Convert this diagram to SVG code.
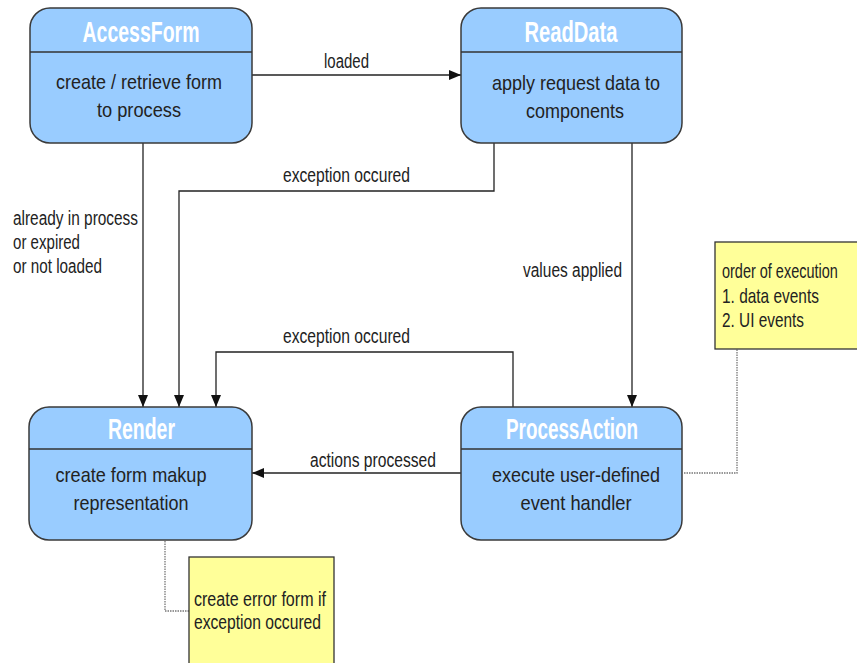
<svg xmlns="http://www.w3.org/2000/svg" width="857" height="663" viewBox="0 0 857 663">
<style>
.node{fill:#99CCFF;stroke:#3a3a3a;stroke-width:1.5}
.div{stroke:#333;stroke-width:1.5}
.title{font-family:"Liberation Sans",Arial,sans-serif;font-size:29px;font-weight:bold;fill:#fff;text-anchor:middle}
.body{font-family:"Liberation Sans",Arial,sans-serif;font-size:21px;fill:#222;text-anchor:middle}
.lbl{font-family:"Liberation Sans",Arial,sans-serif;font-size:20px;fill:#222}
.edge{fill:none;stroke:#222;stroke-width:1.3}
.dot{fill:none;stroke:#777;stroke-width:1.3;stroke-dasharray:1.5 1}
.note{fill:#FFFF99;stroke:#333;stroke-width:1.3}
</style>
<defs>
<marker id="arr" markerUnits="userSpaceOnUse" markerWidth="12" markerHeight="12" refX="12" refY="6" orient="auto">
<path d="M0,1 L12,6 L0,11 z" fill="#111"/>
</marker>
</defs>
<rect width="857" height="663" fill="#fff"/>
<g id="connectors">
<path class="edge" d="M252,75 H461" marker-end="url(#arr)"/>
<path class="edge" d="M143,143 V407" marker-end="url(#arr)"/>
<path class="edge" d="M494,143 V191 H179 V407" marker-end="url(#arr)"/>
<path class="edge" d="M632,143 V407" marker-end="url(#arr)"/>
<path class="edge" d="M513,407 V352 H216 V407" marker-end="url(#arr)"/>
<path class="edge" d="M461,473 H252" marker-end="url(#arr)"/>
<path class="dot" d="M684,473 H737 V349"/>
<path class="dot" d="M165,541 V611 H189"/>
<text class="lbl" x="324" y="68" textLength="45" lengthAdjust="spacingAndGlyphs">loaded</text>
<text class="lbl" x="283" y="182" textLength="127" lengthAdjust="spacingAndGlyphs">exception occured</text>
<text class="lbl" x="283" y="343" textLength="127" lengthAdjust="spacingAndGlyphs">exception occured</text>
<text class="lbl" x="523" y="277" textLength="99" lengthAdjust="spacingAndGlyphs">values applied</text>
<text class="lbl" x="310" y="467" textLength="126" lengthAdjust="spacingAndGlyphs">actions processed</text>
<text class="lbl" x="13" y="225" textLength="125" lengthAdjust="spacingAndGlyphs">already in process</text>
<text class="lbl" x="13" y="249" textLength="67" lengthAdjust="spacingAndGlyphs">or expired</text>
<text class="lbl" x="13" y="273" textLength="89" lengthAdjust="spacingAndGlyphs">or not loaded</text>
</g>
<g id="AccessForm">
<rect class="node" x="30" y="8" width="222" height="135" rx="20"/>
<line class="div" x1="30" y1="52" x2="252" y2="52"/>
<text class="title" x="141" y="42" textLength="117" lengthAdjust="spacingAndGlyphs">AccessForm</text>
<text class="body" x="139" y="89" textLength="166" lengthAdjust="spacingAndGlyphs">create / retrieve form</text>
<text class="body" x="139" y="117" textLength="84" lengthAdjust="spacingAndGlyphs">to process</text>
</g>
<g id="ReadData">
<rect class="node" x="461" y="8" width="221" height="135" rx="20"/>
<line class="div" x1="461" y1="52" x2="682" y2="52"/>
<text class="title" x="571" y="42" textLength="93" lengthAdjust="spacingAndGlyphs">ReadData</text>
<text class="body" x="576" y="90" textLength="168" lengthAdjust="spacingAndGlyphs">apply request data to</text>
<text class="body" x="575" y="118" textLength="98" lengthAdjust="spacingAndGlyphs">components</text>
</g>
<g id="Render">
<rect class="node" x="29" y="407" width="223" height="133" rx="20"/>
<line class="div" x1="29" y1="449" x2="252" y2="449"/>
<text class="title" x="141.5" y="439" textLength="67" lengthAdjust="spacingAndGlyphs">Render</text>
<text class="body" x="131" y="482" textLength="151" lengthAdjust="spacingAndGlyphs">create form makup</text>
<text class="body" x="131" y="510" textLength="115" lengthAdjust="spacingAndGlyphs">representation</text>
</g>
<g id="ProcessAction">
<rect class="node" x="461" y="407" width="221" height="133" rx="20"/>
<line class="div" x1="461" y1="449" x2="682" y2="449"/>
<text class="title" x="572" y="439" textLength="132" lengthAdjust="spacingAndGlyphs">ProcessAction</text>
<text class="body" x="576" y="482" textLength="168" lengthAdjust="spacingAndGlyphs">execute user-defined</text>
<text class="body" x="576" y="510" textLength="111" lengthAdjust="spacingAndGlyphs">event handler</text>
</g>
<g id="note-order">
<rect class="note" x="715" y="242" width="150" height="107"/>
<text class="lbl" transform="translate(722,278) scale(0.724,1)">order of execution</text>
<text class="lbl" transform="translate(722,303) scale(0.772,1)">1. data events</text>
<text class="lbl" transform="translate(722,327) scale(0.768,1)">2. UI events</text>
</g>
<g id="note-error">
<rect class="note" x="189" y="557" width="145" height="120"/>
<text class="lbl" x="194" y="606" textLength="132" lengthAdjust="spacingAndGlyphs">create error form if</text>
<text class="lbl" x="194" y="629" textLength="127" lengthAdjust="spacingAndGlyphs">exception occured</text>
</g>
</svg>
